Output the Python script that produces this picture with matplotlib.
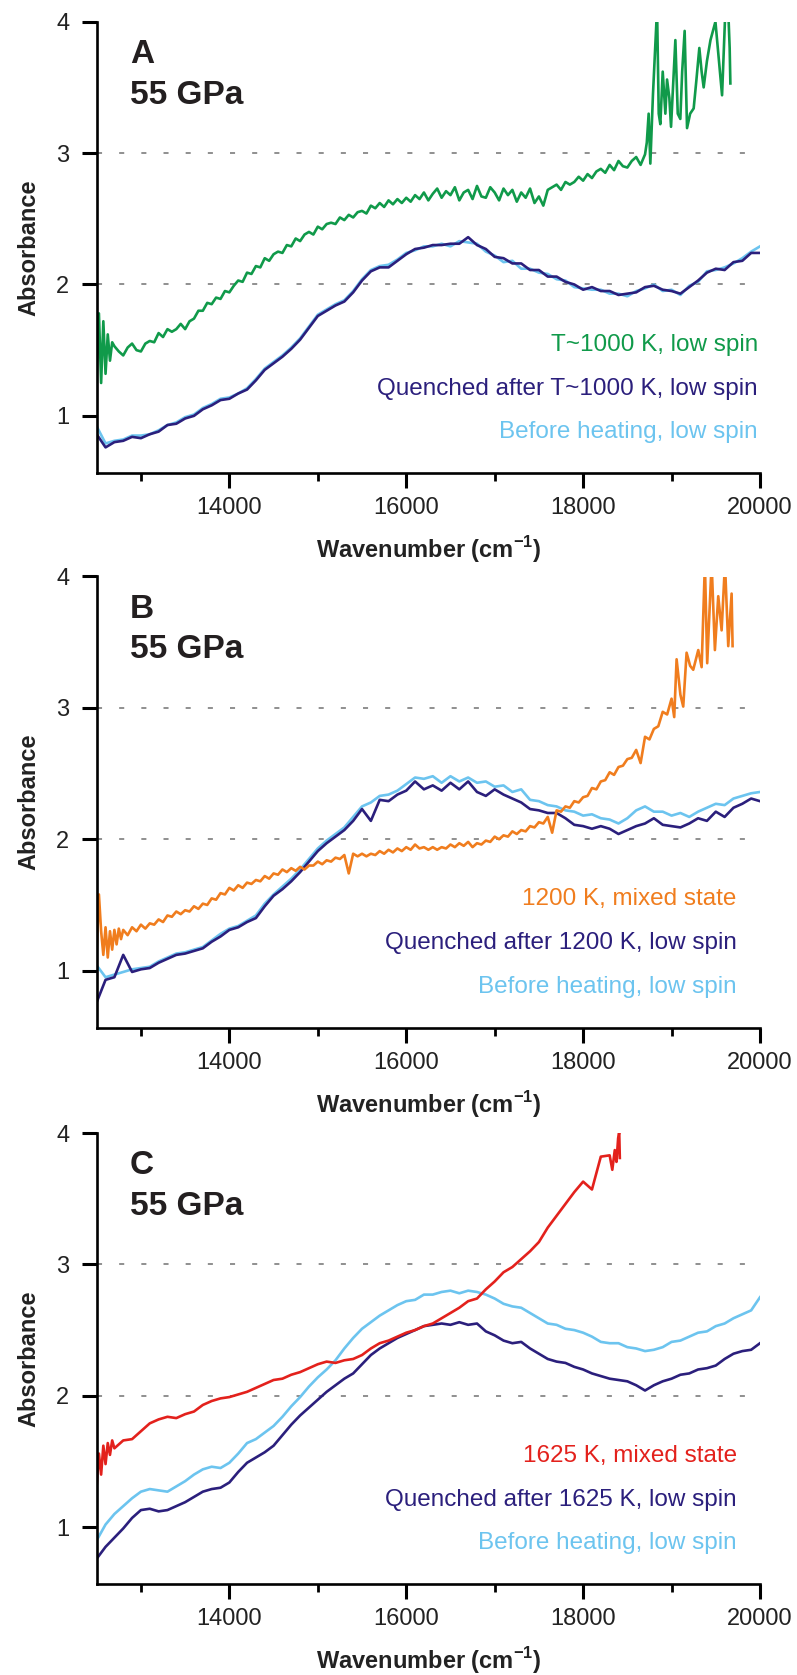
"""
Absorbance spectra at 55 GPa: before heating, at temperature and quenched.
Three stacked panels (A, B, C).
"""

import numpy as np
import matplotlib
matplotlib.use('Agg')
import matplotlib.pyplot as plt

plt.rcParams['font.family'] = ['Liberation Sans', 'DejaVu Sans']
plt.rcParams['mathtext.fontset'] = 'custom'
plt.rcParams['mathtext.rm'] = 'Liberation Sans'
plt.rcParams['mathtext.bf'] = 'Liberation Sans:bold'

# Common wavenumber grid (cm-1) for the low-spin spectra
GRID_START, GRID_STEP = 12500, 100

# ---------------- Panel A ----------------
green_a_head = [1.30, 1.78, 1.25, 1.72, 1.32, 1.62, 1.42, 1.56]  # 12500.., step 25
green_a_body = [  # 12700..18700, step 50
    1.53, 1.49, 1.46, 1.52, 1.55, 1.50, 1.49, 1.55, 1.57, 1.56,
    1.63, 1.60, 1.66, 1.64, 1.66, 1.70, 1.66, 1.72, 1.74, 1.80,
    1.80, 1.86, 1.85, 1.90, 1.89, 1.95, 1.94, 1.99, 2.03, 2.02,
    2.09, 2.08, 2.14, 2.13, 2.20, 2.18, 2.23, 2.25, 2.24, 2.30,
    2.29, 2.35, 2.33, 2.38, 2.40, 2.38, 2.44, 2.42, 2.46, 2.47,
    2.46, 2.51, 2.49, 2.53, 2.51, 2.55, 2.56, 2.54, 2.60, 2.58,
    2.62, 2.59, 2.64, 2.61, 2.65, 2.62, 2.66, 2.63, 2.68, 2.65,
    2.70, 2.64, 2.69, 2.73, 2.66, 2.71, 2.68, 2.74, 2.64, 2.70,
    2.72, 2.65, 2.75, 2.67, 2.66, 2.74, 2.70, 2.64, 2.73, 2.68,
    2.72, 2.63, 2.70, 2.66, 2.73, 2.62, 2.67, 2.60, 2.72, 2.74,
    2.76, 2.72, 2.78, 2.76, 2.78, 2.82, 2.79, 2.84, 2.81, 2.86,
    2.88, 2.85, 2.91, 2.87, 2.94, 2.90, 2.89, 2.94, 2.97, 2.91,
    2.99]
green_a_tail_x = [18720, 18741, 18760, 18790, 18836, 18855, 18873, 18900, 18930,
                  18949, 18975, 18994, 19020, 19043, 19070, 19099, 19120, 19148,
                  19175, 19210, 19250, 19280, 19314, 19340, 19363, 19400, 19440,
                  19496, 19571, 19609, 19640, 19657, 19665]
green_a_tail_y = [3.08, 3.30, 2.92, 3.45, 4.10, 3.30, 3.22, 3.62, 3.30,
                  3.56, 3.42, 3.20, 3.55, 3.86, 3.30, 3.26, 3.62, 3.93,
                  3.19, 3.30, 3.34, 3.55, 3.80, 3.62, 3.50, 3.70, 3.86,
                  4.00, 3.44, 4.10, 4.10, 3.80, 3.53]

navy_a = [
    0.86, 0.76, 0.80, 0.81, 0.84, 0.83, 0.86, 0.88, 0.93, 0.94,
    0.98, 1.00, 1.05, 1.08, 1.12, 1.13, 1.17, 1.20, 1.27, 1.35,
    1.40, 1.45, 1.51, 1.58, 1.67, 1.76, 1.80, 1.84, 1.87, 1.94,
    2.03, 2.10, 2.13, 2.13, 2.18, 2.23, 2.27, 2.28, 2.30, 2.30,
    2.31, 2.31, 2.36, 2.30, 2.27, 2.21, 2.20, 2.16, 2.16, 2.11,
    2.11, 2.06, 2.06, 2.02, 2.00, 1.96, 1.98, 1.95, 1.95, 1.92,
    1.93, 1.94, 1.98, 1.99, 1.96, 1.95, 1.93, 1.98, 2.03, 2.09,
    2.12, 2.11, 2.17, 2.18, 2.24, 2.24]
light_a = [
    0.92, 0.79, 0.81, 0.82, 0.85, 0.85, 0.86, 0.89, 0.93, 0.95,
    0.99, 1.01, 1.06, 1.09, 1.13, 1.14, 1.17, 1.21, 1.28, 1.36,
    1.41, 1.46, 1.52, 1.59, 1.68, 1.77, 1.81, 1.85, 1.88, 1.95,
    2.04, 2.11, 2.14, 2.15, 2.19, 2.24, 2.26, 2.29, 2.29, 2.31,
    2.29, 2.33, 2.32, 2.31, 2.25, 2.22, 2.17, 2.18, 2.12, 2.12,
    2.09, 2.08, 2.04, 2.03, 1.98, 1.97, 1.96, 1.96, 1.93, 1.93,
    1.91, 1.95, 1.97, 2.00, 1.95, 1.96, 1.92, 1.99, 2.02, 2.10,
    2.11, 2.13, 2.16, 2.20, 2.25, 2.29]

# ---------------- Panel B ----------------
orange_b_head = [1.15, 1.58, 1.30, 1.12, 1.33, 1.10, 1.30, 1.16,
                 1.31, 1.20, 1.32, 1.24]  # 12500.., step 25
orange_b_body = [  # 12800..19000, step 50
    1.31, 1.27, 1.33, 1.30, 1.35, 1.32, 1.36, 1.35, 1.39, 1.37,
    1.42, 1.41, 1.45, 1.43, 1.46, 1.45, 1.49, 1.47, 1.51, 1.50,
    1.55, 1.54, 1.59, 1.58, 1.63, 1.61, 1.65, 1.63, 1.67, 1.66,
    1.69, 1.68, 1.72, 1.70, 1.74, 1.73, 1.77, 1.75, 1.78, 1.76,
    1.79, 1.77, 1.80, 1.80, 1.83, 1.81, 1.84, 1.83, 1.86, 1.85,
    1.88, 1.74, 1.89, 1.87, 1.89, 1.87, 1.89, 1.88, 1.91, 1.89,
    1.92, 1.90, 1.93, 1.91, 1.94, 1.92, 1.96, 1.93, 1.94, 1.92,
    1.94, 1.92, 1.94, 1.93, 1.96, 1.94, 1.97, 1.95, 1.98, 1.94,
    1.97, 1.96, 1.99, 1.98, 2.02, 2.00, 2.03, 2.02, 2.06, 2.04,
    2.07, 2.06, 2.10, 2.09, 2.13, 2.12, 2.17, 2.05, 2.22, 2.21,
    2.25, 2.24, 2.29, 2.28, 2.32, 2.33, 2.39, 2.38, 2.44, 2.45,
    2.51, 2.49, 2.55, 2.56, 2.61, 2.62, 2.68, 2.58, 2.78, 2.76,
    2.84, 2.86, 2.97, 2.95, 3.07]
orange_b_tail_x = [19030, 19057, 19100, 19132, 19170, 19210, 19245, 19302, 19340,
                   19377, 19403, 19453, 19490, 19528, 19566, 19604, 19641, 19679,
                   19690]
orange_b_tail_y = [2.93, 3.37, 3.10, 3.01, 3.42, 3.32, 3.29, 3.44, 3.31,
                   4.10, 3.34, 4.10, 3.44, 3.85, 3.59, 4.10, 3.47, 3.87,
                   3.47]

navy_b = [
    0.76, 0.93, 0.95, 1.12, 0.99, 1.01, 1.02, 1.06, 1.09, 1.12,
    1.13, 1.15, 1.17, 1.22, 1.26, 1.31, 1.33, 1.37, 1.40, 1.49,
    1.57, 1.62, 1.68, 1.75, 1.83, 1.91, 1.97, 2.02, 2.07, 2.14,
    2.23, 2.14, 2.30, 2.29, 2.34, 2.37, 2.44, 2.38, 2.41, 2.37,
    2.43, 2.38, 2.44, 2.36, 2.33, 2.38, 2.34, 2.31, 2.28, 2.23,
    2.22, 2.20, 2.20, 2.16, 2.11, 2.10, 2.08, 2.10, 2.08, 2.04,
    2.07, 2.10, 2.12, 2.16, 2.11, 2.10, 2.09, 2.12, 2.16, 2.14,
    2.21, 2.17, 2.24, 2.27, 2.31, 2.29]
light_b = [
    1.04, 0.95, 0.97, 0.99, 1.01, 1.02, 1.03, 1.07, 1.10, 1.13,
    1.14, 1.16, 1.18, 1.23, 1.28, 1.32, 1.34, 1.38, 1.42, 1.51,
    1.58, 1.64, 1.70, 1.77, 1.85, 1.93, 1.99, 2.04, 2.09, 2.17,
    2.25, 2.28, 2.33, 2.34, 2.37, 2.42, 2.47, 2.46, 2.48, 2.43,
    2.48, 2.44, 2.47, 2.43, 2.44, 2.40, 2.41, 2.36, 2.38, 2.30,
    2.29, 2.26, 2.25, 2.22, 2.21, 2.18, 2.19, 2.16, 2.15, 2.12,
    2.16, 2.22, 2.25, 2.21, 2.21, 2.18, 2.20, 2.17, 2.21, 2.24,
    2.27, 2.26, 2.31, 2.33, 2.35, 2.36]

# ---------------- Panel C ----------------
red_c_head = [1.32, 1.56, 1.40, 1.62, 1.48, 1.64, 1.55, 1.66]  # 12500.., step 25
red_c_body = [  # 12700..18300, step 100
    1.60, 1.66, 1.67, 1.73, 1.79, 1.82, 1.84, 1.83, 1.86, 1.88,
    1.93, 1.96, 1.98, 1.99, 2.01, 2.03, 2.06, 2.09, 2.12, 2.13,
    2.16, 2.18, 2.21, 2.24, 2.26, 2.25, 2.27, 2.28, 2.31, 2.36,
    2.40, 2.42, 2.45, 2.48, 2.50, 2.53, 2.55, 2.59, 2.63, 2.67,
    2.72, 2.74, 2.81, 2.87, 2.94, 2.98, 3.04, 3.10, 3.17, 3.28,
    3.37, 3.46, 3.55, 3.63, 3.57, 3.82, 3.83]
red_c_tail_x = [18330, 18358, 18377, 18396, 18408, 18415]
red_c_tail_y = [3.72, 3.87, 3.78, 3.96, 4.01, 3.81]

navy_c = [
    0.76, 0.85, 0.92, 0.99, 1.07, 1.13, 1.14, 1.12, 1.13, 1.16,
    1.19, 1.23, 1.27, 1.29, 1.30, 1.34, 1.42, 1.49, 1.53, 1.57,
    1.62, 1.70, 1.78, 1.85, 1.91, 1.97, 2.03, 2.08, 2.13, 2.17,
    2.24, 2.31, 2.36, 2.40, 2.44, 2.47, 2.50, 2.53, 2.54, 2.55,
    2.54, 2.56, 2.54, 2.55, 2.49, 2.46, 2.42, 2.40, 2.41, 2.36,
    2.32, 2.28, 2.26, 2.25, 2.22, 2.20, 2.17, 2.15, 2.13, 2.12,
    2.11, 2.08, 2.04, 2.08, 2.11, 2.13, 2.16, 2.17, 2.20, 2.21,
    2.23, 2.28, 2.32, 2.34, 2.35, 2.40]
light_c = [
    0.90, 1.02, 1.10, 1.16, 1.22, 1.27, 1.29, 1.28, 1.27, 1.31,
    1.35, 1.40, 1.44, 1.46, 1.45, 1.49, 1.56, 1.64, 1.67, 1.72,
    1.77, 1.84, 1.92, 1.99, 2.07, 2.14, 2.20, 2.27, 2.36, 2.44,
    2.51, 2.56, 2.61, 2.65, 2.69, 2.72, 2.73, 2.77, 2.77, 2.79,
    2.80, 2.78, 2.80, 2.79, 2.77, 2.74, 2.70, 2.68, 2.67, 2.63,
    2.59, 2.55, 2.54, 2.51, 2.50, 2.48, 2.45, 2.41, 2.40, 2.40,
    2.37, 2.36, 2.34, 2.35, 2.37, 2.41, 2.42, 2.45, 2.48, 2.49,
    2.53, 2.55, 2.59, 2.62, 2.65, 2.75]

panel_letters = ['A', 'B', 'C']
pressure_label = '55 GPa'
hot_labels = ['T~1000 K, low spin', '1200 K, mixed state', '1625 K, mixed state']
quench_labels = ['Quenched after T~1000 K, low spin',
                 'Quenched after 1200 K, low spin',
                 'Quenched after 1625 K, low spin']
before_label = 'Before heating, low spin'

grid_levels = [2, 3]
y_ticks = [1, 2, 3, 4]
x_major = [14000, 16000, 18000, 20000]
x_minor = [13000, 15000, 17000, 19000]

GREEN = '#109a4a'
ORANGE = '#f07d1e'
RED = '#e3211c'
NAVY = '#2b1f7c'
LIGHT = '#6cc4ef'


def on_grid(vals, start=GRID_START, step=GRID_STEP):
    return start + step * np.arange(len(vals)), np.asarray(vals)


def hot_trace(head, body_start, body_step, body, tail_x, tail_y):
    hx, hy = on_grid(head, step=25)
    bx, by = on_grid(body, start=body_start, step=body_step)
    return (np.concatenate([hx, bx, tail_x]),
            np.concatenate([hy, by, tail_y]))


hot_curves = [
    hot_trace(green_a_head, 12700, 50, green_a_body, green_a_tail_x, green_a_tail_y),
    hot_trace(orange_b_head, 12800, 50, orange_b_body, orange_b_tail_x, orange_b_tail_y),
    hot_trace(red_c_head, 12700, 100, red_c_body, red_c_tail_x, red_c_tail_y),
]
hot_colors = [GREEN, ORANGE, RED]
navy_curves = [navy_a, navy_b, navy_c]
light_curves = [light_a, light_b, light_c]
legend_right = [0.997, 0.965, 0.965]

W, H = 797, 1675
fig = plt.figure(figsize=(W / 100, H / 100), dpi=100)

# axes boxes in pixels: left, right, top, height
ax_left, ax_right = 96.7, 760
ax_tops = [21.7, 576.5, 1133]
ax_h = 451.3

for i in range(3):
    ax = fig.add_axes([ax_left / W, 1 - (ax_tops[i] + ax_h) / H,
                       (ax_right - ax_left) / W, ax_h / H])

    for lvl in grid_levels:
        ax.axhline(lvl, color='#8f8f8f', lw=1.4, ls=(0, (2.6, 8.8)), zorder=0)

    lx, ly = on_grid(light_curves[i])
    nx, ny = on_grid(navy_curves[i])
    ax.plot(lx, ly, color=LIGHT, lw=1.9)
    ax.plot(nx, ny, color=NAVY, lw=1.9)
    hx, hy = hot_curves[i]
    ax.plot(hx, hy, color=hot_colors[i], lw=1.9)

    ax.set_xlim(12500, 20000)
    ax.set_ylim(0.565, 4.0)
    ax.set_xticks(x_major)
    ax.set_xticks(x_minor, minor=True)
    ax.set_yticks(y_ticks)
    ax.set_yticklabels([str(t) for t in y_ticks])

    for side in ['top', 'right']:
        ax.spines[side].set_visible(False)
    for side in ['left', 'bottom']:
        ax.spines[side].set_linewidth(1.9)

    ax.tick_params(axis='both', which='major', direction='out', length=10.8,
                   width=2.2, labelsize=17, colors='black', labelcolor='#222222')
    ax.tick_params(axis='x', which='minor', direction='out', length=5.8, width=2.0)
    ax.tick_params(axis='y', which='major', pad=9)
    ax.tick_params(axis='x', which='major', pad=6.5)

    ax.set_ylabel('Absorbance', fontsize=17, fontweight='bold', color='#222222')
    ax.yaxis.set_label_coords((40 - ax_left) / (ax_right - ax_left), 0.5)
    ax.set_xlabel(r'Wavenumber (cm$^{\mathbf{-1}}$)', fontsize=17,
                  fontweight='bold', color='#222222')
    ax.xaxis.set_label_coords(0.5, -61 / ax_h)

    # panel letter and pressure
    tx = (130 - ax_left) / (ax_right - ax_left)
    ax.text(tx, 1 - 41 / ax_h, panel_letters[i], transform=ax.transAxes,
            fontsize=24, fontweight='bold', va='baseline', color='#231f20')
    ax.text(tx, 1 - 82 / ax_h, pressure_label, transform=ax.transAxes,
            fontsize=24, fontweight='bold', va='baseline', color='#231f20')

    # curve labels
    rx = legend_right[i]
    ax.text(rx, 1 - 329 / ax_h, hot_labels[i], transform=ax.transAxes,
            fontsize=17.5, ha='right', va='baseline', color=hot_colors[i])
    ax.text(rx, 1 - 373 / ax_h, quench_labels[i], transform=ax.transAxes,
            fontsize=17.5, ha='right', va='baseline', color=NAVY)
    ax.text(rx, 1 - 416 / ax_h, before_label, transform=ax.transAxes,
            fontsize=17.5, ha='right', va='baseline', color=LIGHT)

fig.savefig('out.png', dpi=100, facecolor='white')
plt.close(fig)
